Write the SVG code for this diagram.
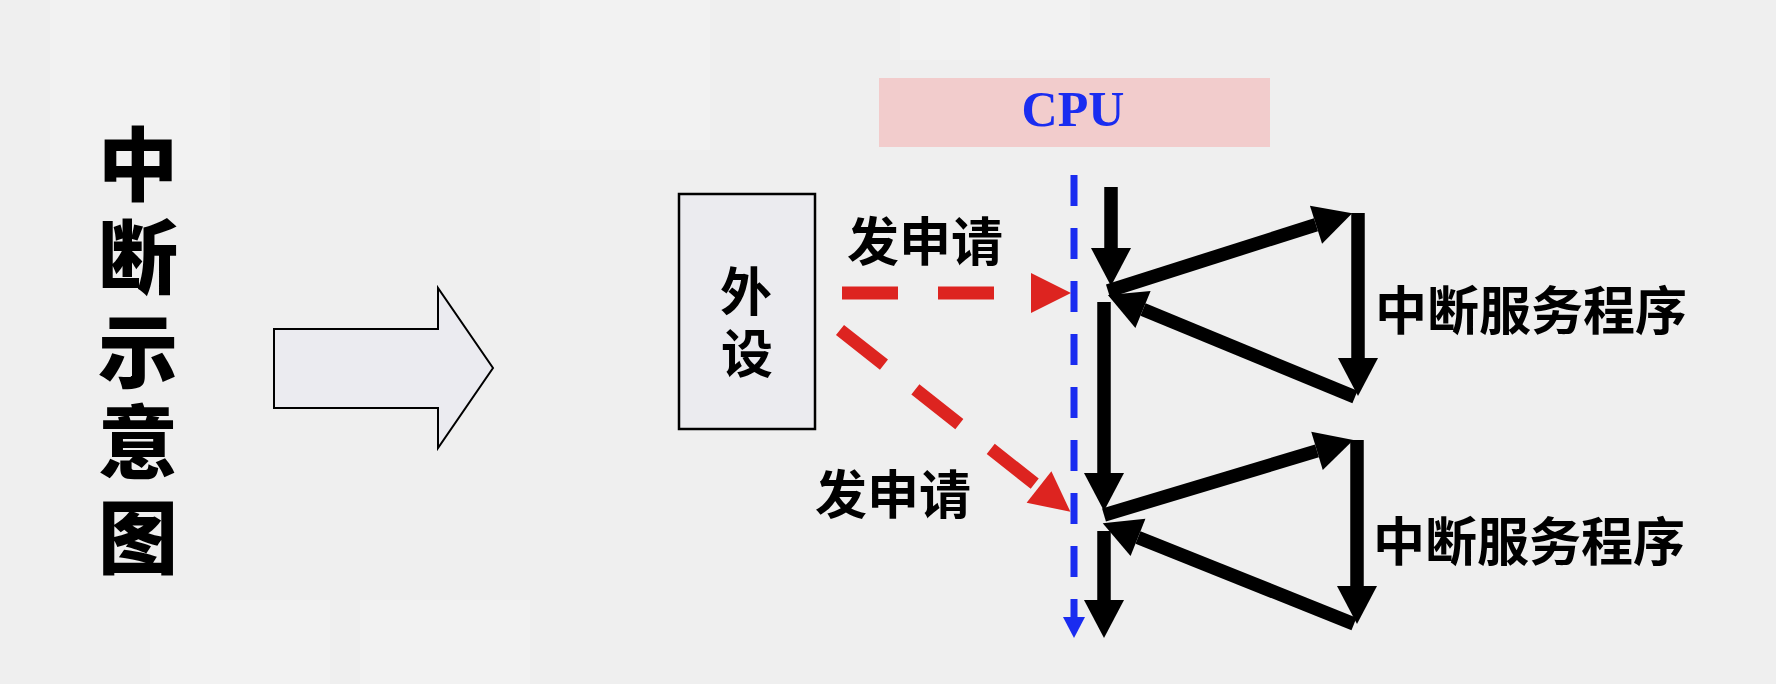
<svg xmlns="http://www.w3.org/2000/svg" width="1776" height="684" viewBox="0 0 1776 684">
<defs>
<style>
.cjk{font-family:"Noto Sans CJK SC","Noto Sans",sans-serif;font-weight:700;fill:#000;}
.ttl{font-family:"Noto Sans CJK SC","Noto Sans",sans-serif;font-weight:900;fill:#000;font-size:80px;}
.blk{stroke:#000;stroke-width:13.5;fill:none;stroke-linecap:butt;}
.red{stroke:#dd2420;stroke-width:13;fill:none;stroke-dasharray:56 40;}
.blue{stroke:#1a2cf0;stroke-width:7;fill:none;stroke-dasharray:31 22;}
</style>
<marker id="hb" markerUnits="userSpaceOnUse" markerWidth="44" markerHeight="44" refX="0" refY="20" orient="auto" overflow="visible">
<path d="M0,0 L38,20 L0,40 Z" fill="#000"/>
</marker>
<marker id="hr" markerUnits="userSpaceOnUse" markerWidth="44" markerHeight="44" refX="0" refY="20" orient="auto" overflow="visible">
<path d="M0,0 L40,20 L0,40 Z" fill="#dd2420"/>
</marker>
<marker id="hbl" markerUnits="userSpaceOnUse" markerWidth="24" markerHeight="24" refX="0" refY="11" orient="auto" overflow="visible">
<path d="M0,0 L21,11 L0,22 Z" fill="#1a2cf0"/>
</marker>
</defs>
<rect x="0" y="0" width="1776" height="684" fill="#efefef"/>
<g fill="#f2f2f2">
<rect x="50" y="0" width="180" height="180"/>
<rect x="540" y="0" width="170" height="150"/>
<rect x="900" y="0" width="190" height="60"/>
<rect x="150" y="600" width="180" height="84"/>
<rect x="360" y="600" width="170" height="84"/>
</g>

<g id="title">
<text class="ttl" x="138" y="159" text-anchor="middle" dominant-baseline="central">中</text>
<text class="ttl" x="138" y="252" text-anchor="middle" dominant-baseline="central">断</text>
<text class="ttl" x="138" y="346" text-anchor="middle" dominant-baseline="central">示</text>
<text class="ttl" x="138" y="437" text-anchor="middle" dominant-baseline="central">意</text>
<text class="ttl" x="138" y="532" text-anchor="middle" dominant-baseline="central">图</text>
</g>

<g id="bigArrow">
<path d="M274,329 L438,329 L438,288 L493,368 L438,448 L438,408 L274,408 Z" fill="#ebebf0" stroke="#000" stroke-width="2"/>
</g>

<g id="cpu">
<rect x="879" y="78" width="391" height="69" fill="#f2cccc"/>
<text x="1073" y="126" font-family="'Liberation Serif',serif" font-weight="700" font-size="50" fill="#1a2cf0" text-anchor="middle">CPU</text>
</g>

<g id="device">
<rect x="679" y="194" width="136" height="235" fill="#ebebef" stroke="#000" stroke-width="2.5"/>
<text class="cjk" font-size="52" x="746" y="288" text-anchor="middle" dominant-baseline="central">外</text>
<text class="cjk" font-size="52" x="747" y="350" text-anchor="middle" dominant-baseline="central">设</text>
</g>

<g id="labels">
<text class="cjk" font-size="52" x="925" y="238" text-anchor="middle" dominant-baseline="central">发申请</text>
<text class="cjk" font-size="52" x="893" y="491" text-anchor="middle" dominant-baseline="central">发申请</text>
<text class="cjk" font-size="52" x="1531" y="307" text-anchor="middle" dominant-baseline="central">中断服务程序</text>
<text class="cjk" font-size="52" x="1529" y="538" text-anchor="middle" dominant-baseline="central">中断服务程序</text>
</g>

<g id="connectors">
<line class="blue" x1="1074" y1="175" x2="1074" y2="617" marker-end="url(#hbl)"/>
<line class="red" x1="842" y1="293" x2="1031" y2="293" marker-end="url(#hr)"/>
<line class="red" x1="840" y1="330" x2="1039" y2="487" marker-end="url(#hr)"/>

<line class="blk" x1="1111" y1="187" x2="1111" y2="248" marker-end="url(#hb)"/>
<line class="blk" x1="1108" y1="291" x2="1316" y2="224.7" marker-end="url(#hb)"/>
<line class="blk" x1="1358" y1="213" x2="1358" y2="358" marker-end="url(#hb)"/>
<line class="blk" x1="1355" y1="397" x2="1143" y2="309.6" marker-end="url(#hb)"/>
<line class="blk" x1="1104" y1="302" x2="1104" y2="473" marker-end="url(#hb)"/>
<line class="blk" x1="1104" y1="515" x2="1317" y2="450.9" marker-end="url(#hb)"/>
<line class="blk" x1="1357" y1="440" x2="1357" y2="586" marker-end="url(#hb)"/>
<line class="blk" x1="1354" y1="624" x2="1138" y2="537.4" marker-end="url(#hb)"/>
<line class="blk" x1="1104" y1="531" x2="1104" y2="600" marker-end="url(#hb)"/>
</g>
</svg>
